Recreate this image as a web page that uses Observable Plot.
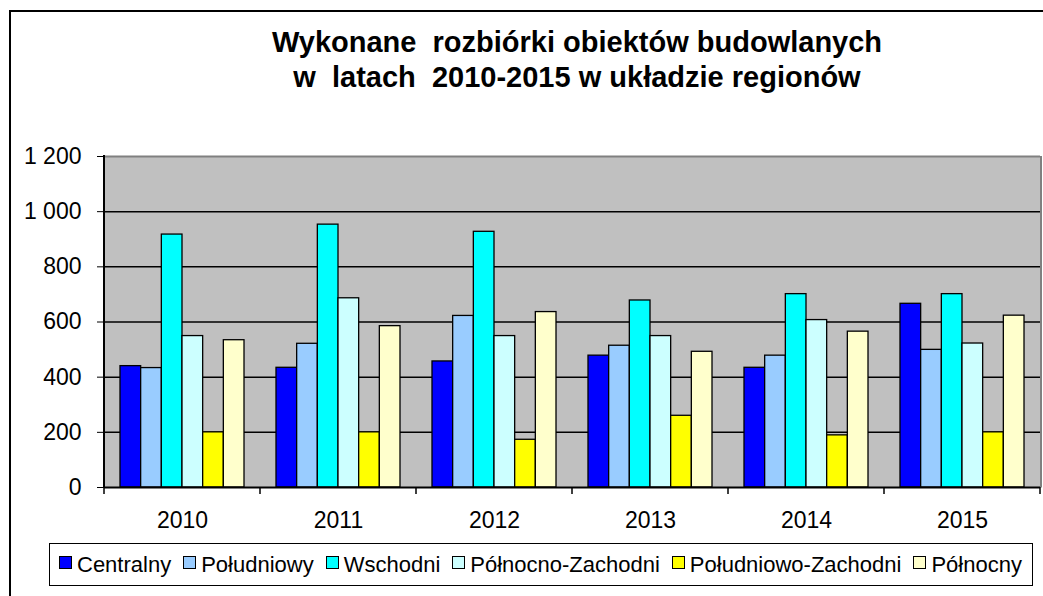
<!DOCTYPE html>
<html>
<head>
<meta charset="utf-8">
<script src="https://cdn.jsdelivr.net/npm/d3@7"></script>
<script src="https://cdn.jsdelivr.net/npm/@observablehq/plot@0.6"></script>
<style>
  html, body { margin: 0; padding: 0; background: #fff; overflow: hidden; width: 1043px; height: 596px; }
  #wrap { position: relative; width: 1043px; height: 596px; overflow: hidden; font-family: "Liberation Sans", Arial, sans-serif; }
  #frame { position: absolute; left: 9px; top: 10px; width: 2000px; height: 2000px; border: 2px solid #000; pointer-events: none; }
  #title { position: absolute; left: 100px; width: 954px; top: 25px; text-align: center; font-weight: bold; font-size: 29px; line-height: 35px; white-space: pre; color: #000; }
  #chart { position: absolute; left: 0; top: 130px; }
  #legend { position: absolute; left: 49px; top: 543px; width: 973px; height: 41px; border: 1.5px solid #000; background: #fff; display: flex; align-items: center; padding-left: 9px; box-sizing: content-box; font-size: 22px; white-space: nowrap; overflow: hidden; }
  .item { display: flex; align-items: center; margin-right: 12px; }
  .sw { width: 11px; height: 11px; border: 1px solid #000; margin-right: 5px; margin-top: -4px; }
</style>
</head>
<body>
<div id="wrap">
  <div id="title"></div>
  <div id="chart"></div>
  <div id="legend"></div>
  <div id="frame"></div>
</div>
<script>
// ---- data ----
const titleLines = ["Wykonane  rozbiórki obiektów budowlanych", "w  latach  2010-2015 w układzie regionów"];
const years = ["2010", "2011", "2012", "2013", "2014", "2015"];
const regions = ["Centralny", "Południowy", "Wschodni", "Północno-Zachodni", "Południowo-Zachodni", "Północny"];
const colors = ["#0000FF", "#99CCFF", "#00FFFF", "#CCFFFF", "#FFFF00", "#FFFFCC"];
const centralny = [440, 434, 457, 478, 434, 666];
const poludniowy = [433, 521, 622, 514, 478, 499];
const wschodni = [917, 953, 927, 678, 701, 701];
const polnocnoZachodni = [549, 686, 549, 549, 607, 522];
const poludniowoZachodni = [200, 200, 173, 260, 189, 200];
const polnocny = [534, 585, 636, 492, 565, 623];
const yTicks = [0, 200, 400, 600, 800, 1000, 1200];

// ---- build table ----
const series = [centralny, poludniowy, wschodni, polnocnoZachodni, poludniowoZachodni, polnocny];
const rows = [];
years.forEach((yr, i) => regions.forEach((r, j) => rows.push({year: yr, region: r, value: series[j][i]})));

document.getElementById("title").textContent = titleLines.join("\n");

const fmt = d3.formatLocale({decimal: ",", thousands: " ", grouping: [3], currency: ["", ""]}).format(",d");

const W = 1043, mL = 104, mR = 3, mT = 26, mB = 50, H = 407;

const chart = Plot.plot({
  width: W, height: H,
  marginLeft: mL, marginRight: mR, marginTop: mT, marginBottom: mB,
  style: {fontFamily: "'Liberation Sans', Arial, sans-serif", fontSize: "23px", color: "#000", background: "transparent", overflow: "visible"},
  facet: {data: rows, x: "year"},
  fx: {domain: years, padding: 0, round: false, axis: "bottom", tickSize: 0, tickPadding: 24, label: null},
  x: {domain: regions, paddingInner: 0, paddingOuter: 0.774, round: false, axis: null},
  y: {domain: [0, 1200], ticks: yTicks, tickFormat: fmt, tickSize: 7, tickPadding: 16, label: null},
  color: {domain: regions, range: colors},
  marks: [
    Plot.frame({fill: "#C0C0C0", stroke: "none", insetLeft: -1, insetRight: -1, shapeRendering: "crispEdges"}),
    Plot.ruleY(yTicks.filter(d => d > 0 && d < 1200), {stroke: "#000", strokeWidth: 1.5}),
    Plot.ruleY([1200], {stroke: "#808080", strokeWidth: 2}),
    Plot.barY(rows, {x: "region", y: "value", fill: "region", stroke: "#000", strokeWidth: 1.3}),
    Plot.ruleY([0], {stroke: "#000", strokeWidth: 2})
  ]
});
document.getElementById("chart").appendChild(chart);

// axis lines and category-boundary ticks through the library's scales
const svg = d3.select(chart.tagName.toLowerCase() === "svg" ? chart : chart.querySelector("svg"));
const ys = chart.scale("y");
const y0 = ys.apply(0), y1 = ys.apply(1200);
let bounds;
try {
  const fxs = chart.scale("fx");
  bounds = years.map(y => fxs.apply(y));
  bounds.push(fxs.apply(years[years.length - 1]) + fxs.bandwidth);
} catch (e) {
  const step = (W - mL - mR) / years.length;
  bounds = d3.range(years.length + 1).map(i => mL + i * step);
}
const xr = bounds[bounds.length - 1];
svg.append("line").attr("x1", xr + 1).attr("x2", xr + 1).attr("y1", y1).attr("y2", y0)
  .attr("stroke", "#808080").attr("stroke-width", 2);
svg.append("line").attr("x1", mL).attr("x2", mL).attr("y1", y1 - 1).attr("y2", y0 + 1)
  .attr("stroke", "#000").attr("stroke-width", 2);
bounds.forEach(b => {
  svg.append("line").attr("x1", b).attr("x2", b).attr("y1", y0).attr("y2", y0 + 7)
    .attr("stroke", "#000").attr("stroke-width", 1.5);
});

// legend
const legend = d3.select("#legend");
regions.forEach((r, i) => {
  const it = legend.append("div").attr("class", "item");
  it.append("div").attr("class", "sw").style("background", colors[i]);
  it.append("span").text(r);
});
</script>
</body>
</html>
